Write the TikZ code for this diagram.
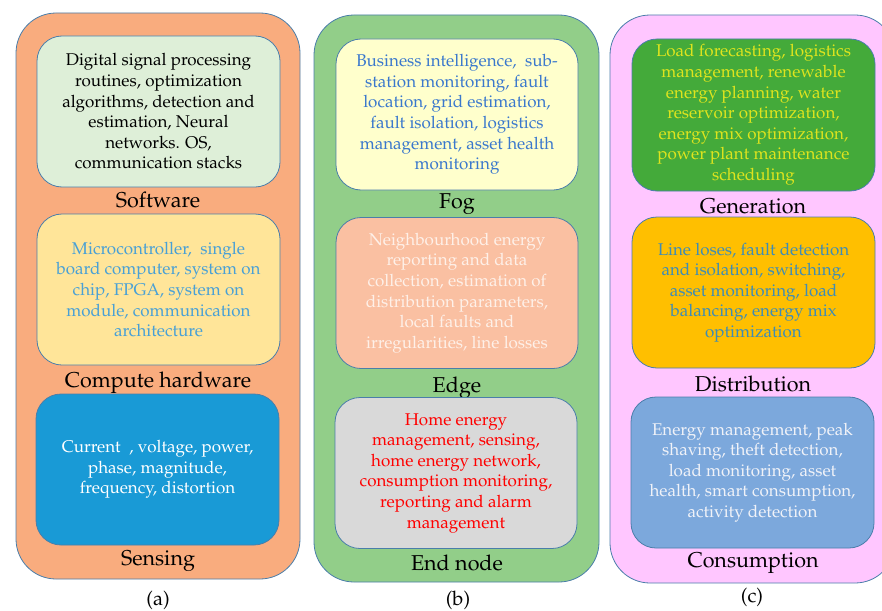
\documentclass[tikz,border=0pt]{standalone}
\usepackage[T1]{fontenc}
\usepackage{mathpazo}
\definecolor{bord}{RGB}{74,126,170}
\definecolor{outA}{RGB}{249,172,126}
\definecolor{outB}{RGB}{146,206,137}
\definecolor{outC}{RGB}{255,198,255}
\definecolor{swF}{RGB}{222,239,216}
\definecolor{hwF}{RGB}{255,229,153}
\definecolor{hwT}{RGB}{72,160,214}
\definecolor{snF}{RGB}{25,154,214}
\definecolor{fogF}{RGB}{255,255,204}
\definecolor{fogT}{RGB}{58,120,204}
\definecolor{edgF}{RGB}{250,192,162}
\definecolor{edgT}{RGB}{254,240,232}
\definecolor{endF}{RGB}{217,217,217}
\definecolor{genF}{RGB}{68,170,58}
\definecolor{genT}{RGB}{222,228,30}
\definecolor{disF}{RGB}{255,191,0}
\definecolor{disT}{RGB}{62,140,182}
\definecolor{conF}{RGB}{124,168,220}
\definecolor{conT}{RGB}{240,242,248}
\newcommand{\bodyfont}{\fontsize{17}{20.6}\selectfont}
\newcommand{\labfont}{\fontsize{21.5}{24}\selectfont}
\tikzset{
  outerbox/.style={draw=bord, line width=0.8pt, rounded corners=40pt, inner sep=0pt},
  inbox/.style={draw=bord, line width=0.8pt, rounded corners=25pt, minimum width=243pt,
    minimum height=151pt, align=center, font=\bodyfont, inner sep=0pt},
  lbl/.style={font=\labfont, inner sep=0pt, text=black},
  captionlbl/.style={font=\fontsize{20}{22}\selectfont, inner sep=0pt},
}
\begin{document}
\begin{tikzpicture}[x=1pt,y=-1pt]
\useasboundingbox (0,0) rectangle (882,610);
\begin{scope}
\clip (0,0) rectangle (882,610);
% outer panels
\node[outerbox, fill=outA, minimum width=284pt, minimum height=566pt] (A) at (158,296) {};
\node[outerbox, fill=outB, minimum width=285pt, minimum height=567pt] (B) at (456.5,298.5) {};
\node[outerbox, fill=outC, minimum width=285pt, minimum height=568pt] (C) at (752.5,299) {};
\end{scope}
% column (a)
\node[inbox, fill=swF, text=black] (sw) at (158.5,111.5)
  {Digital signal processing\\ routines, optimization\\ algorithms, detection and\\ estimation, Neural\\ networks. OS,\\ communication stacks};
\node[lbl] (swl) at (158,200) {Software};
\node[inbox, fill=hwF, text=hwT] (hw) at (158.5,289.5)
  {Microcontroller,\ \ single\\ board computer, system on\\ chip, FPGA, system on\\ module, communication\\ architecture};
\node[lbl] (hwl) at (158,383) {Compute hardware};
\node[inbox, fill=snF, text=white] (sn) at (157.5,469.5)
  {Current\ \ , voltage, power,\\ phase, magnitude,\\ frequency, distortion};
\node[lbl] (snl) at (158,561) {Sensing};
\node[captionlbl] (capa) at (158,600) {(a)};
% column (b)
\node[inbox, fill=fogF, text=fogT, minimum width=242pt] (fog) at (457,114.5)
  {Business intelligence,\ \ sub-\\ station monitoring, fault\\ location, grid estimation,\\ fault isolation, logistics\\ management, asset health\\ monitoring};
\node[lbl] (fogl) at (457,204) {Fog};
\node[inbox, fill=edgF, text=edgT, minimum width=242pt] (edg) at (457,293)
  {Neighbourhood energy\\ reporting and data\\ collection, estimation of\\ distribution parameters,\\ local faults and\\ irregularities,\ line losses};
\node[lbl] (edgl) at (457,388) {Edge};
\node[inbox, fill=endF, text=red, minimum width=242pt] (end) at (456,473)
  {Home energy\\ management, sensing,\\ home energy network,\\ consumption monitoring,\\ reporting and alarm\\ management};
\node[lbl] (endl) at (457,563) {End node};
\node[captionlbl] (capb) at (458,600) {(b)};
% column (c)
\node[inbox, fill=genF, text=genT, minimum height=152pt] (gen) at (753.5,115)
  {Load forecasting, logistics\\ management, renewable\\ energy planning,\ water\\ reservoir optimization,\\ energy mix optimization,\\ power plant maintenance\\ scheduling};
\node[lbl] (genl) at (753,206) {Generation};
\node[inbox, fill=disF, text=disT] (dis) at (753.5,292.5)
  {Line loses, fault detection\\ and isolation,\ switching,\\ asset monitoring, load\\ balancing,\ energy mix\\ optimization};
\node[lbl] (disl) at (753,384) {Distribution};
\node[inbox, fill=conF, text=conT] (con) at (752.5,472.5)
  {Energy management, peak\\ shaving, theft detection,\\ load monitoring, asset\\ health, smart consumption,\\ activity detection};
\node[lbl] (conl) at (753,563) {Consumption};
\node[captionlbl] (capc) at (752,597) {(c)};
\end{tikzpicture}
\end{document}
